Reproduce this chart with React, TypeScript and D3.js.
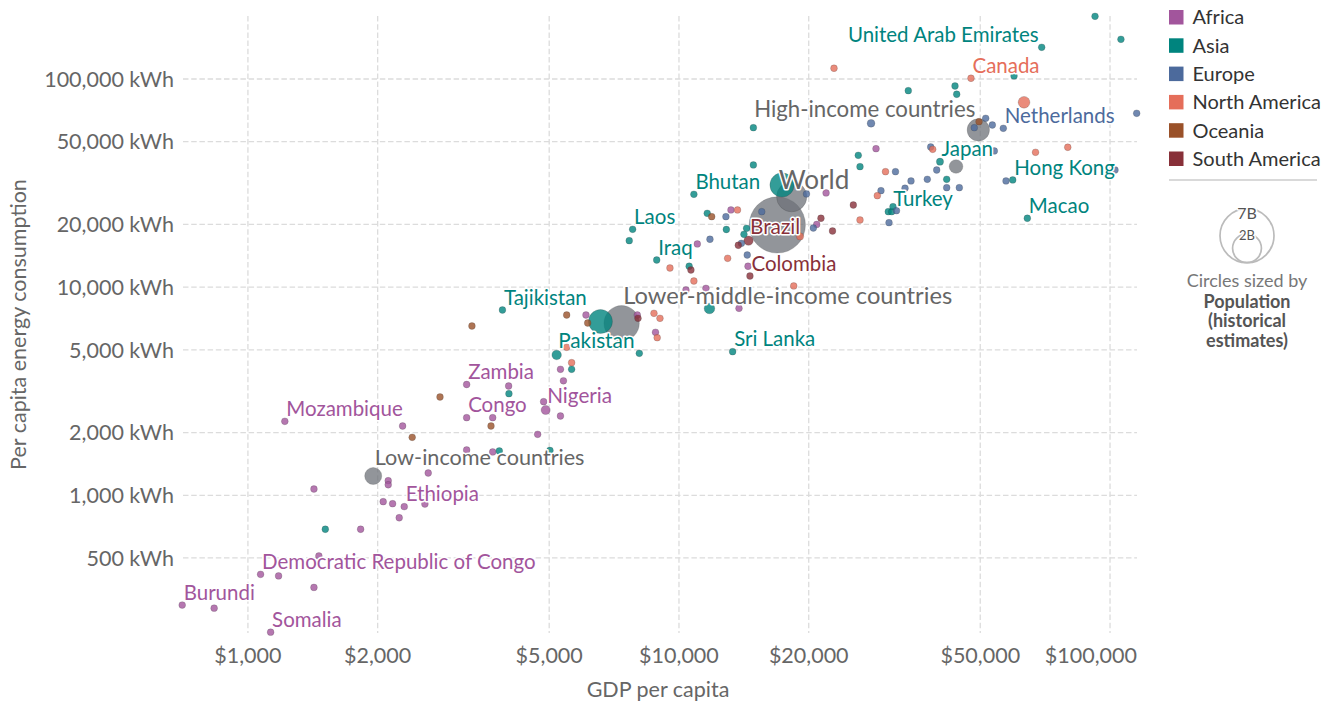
import React from "react";
import * as d3 from "d3";

// [name, GDP per capita ($), per capita energy (kWh), population (millions)]
type Row = [string, number, number, number];

const africa: Row[] = [
  ["Burundi", 704, 297, 12], ["", 835, 287, 5], ["Somalia", 1129, 220, 16],
  ["Democratic Republic of Congo", 1070, 417, 90], ["", 1178, 410, 5], ["", 1423, 361, 5],
  ["", 1461, 511, 5], ["Mozambique", 1218, 2267, 30], ["", 1423, 1072, 5], ["", 1826, 687, 5],
  ["", 2116, 1175, 5], ["", 2116, 1124, 5], ["", 2060, 932, 5], ["", 2166, 911, 5],
  ["Ethiopia", 2305, 882, 110], ["", 2244, 780, 5], ["", 2574, 908, 5], ["", 2620, 1280, 5],
  ["", 2285, 2152, 5], ["Zambia", 3217, 3406, 18], ["Congo", 3217, 2360, 5], ["", 3217, 1651, 5],
  ["", 4026, 3350, 5], ["Nigeria", 4906, 2569, 200], ["", 4853, 2817, 5], ["", 5310, 2404, 5],
  ["", 3697, 2360, 5], ["", 4701, 1963, 5], ["", 3697, 1615, 5], ["", 5310, 4030, 5],
  ["", 5395, 3549, 5], ["", 6085, 7348, 5], ["", 8004, 7348, 5], ["", 8822, 6068, 5],
  ["", 10380, 9690, 5], ["", 11550, 9870, 100], ["", 13780, 7910, 5], ["", 11030, 16120, 5],
  ["", 13200, 23480, 5], ["", 14460, 12600, 5], ["", 21940, 28340, 5], ["", 20870, 20000, 5],
  ["", 28650, 46250, 5],
];

const asia: Row[] = [
  ["", 1512, 687, 5], ["", 3830, 1633, 5], ["", 5020, 1641, 5], ["", 4032, 3077, 5],
  ["", 5636, 4030, 5], ["Pakistan", 5203, 4721, 220], ["", 8091, 4810, 110],
  ["Sri Lanka", 13320, 4896, 21], ["Tajikistan", 3895, 7767, 9], ["India", 6575, 6839, 1380],
  ["Indonesia", 11770, 7897, 270], ["Iraq", 8879, 13500, 40], ["", 10560, 12600, 5],
  ["Laos", 7807, 18960, 7], ["", 7667, 16720, 5], ["Bhutan", 10830, 27930, 1],
  ["", 11630, 22630, 5], ["", 12880, 18920, 5], ["", 14350, 19170, 5], ["", 14150, 17940, 5],
  ["", 14880, 58340, 5], ["", 14880, 38630, 5], ["China", 17340, 30960, 1410],
  ["", 26060, 42990, 5], ["", 26300, 37910, 5], ["", 30590, 23040, 5], ["Turkey", 31150, 23040, 83],
  ["", 31370, 24350, 5], ["Japan", 40320, 40060, 126], ["", 41790, 32970, 5],
  ["", 34040, 87860, 5], ["", 43690, 92540, 5], ["", 44090, 84450, 5],
  ["United Arab Emirates", 69420, 142000, 10], ["Qatar", 92300, 200000, 3],
  ["Singapore", 106000, 155100, 6], ["", 59890, 103400, 5], ["Hong Kong", 59470, 32720, 7],
  ["Macao", 64290, 21420, 1],
];

const europe: Row[] = [
  ["", 11800, 16980, 5], ["", 12850, 21800, 5], ["", 14400, 14270, 5], ["", 13960, 16240, 5],
  ["", 15560, 23040, 5], ["", 19760, 28030, 5], ["", 20500, 19240, 5], ["Russia", 27900, 61260, 145],
  ["", 38370, 47130, 5], ["", 31790, 35860, 5], ["", 39620, 36540, 5], ["", 37680, 32970, 5],
  ["", 34540, 32360, 5], ["", 33450, 29850, 5], ["", 41790, 30050, 5], ["", 44710, 30050, 5],
  ["", 29420, 29070, 5], ["", 31960, 23300, 5], ["", 30710, 20400, 5], ["", 48430, 58340, 5],
  ["", 51470, 64740, 5], ["", 53330, 60120, 5], ["Netherlands", 56550, 57960, 17],
  ["", 57370, 32360, 5], ["Ireland", 102700, 36540, 5], ["Luxembourg", 115300, 68420, 1],
  ["", 53900, 45100, 5],
];

const northAmerica: Row[] = [
  ["", 5636, 4336, 5], ["", 5489, 5140, 5], ["", 8750, 7486, 5], ["", 9035, 7085, 5],
  ["", 8902, 5716, 5], ["", 9530, 12360, 5], ["", 10830, 10700, 5], ["", 12970, 13760, 5],
  ["", 13670, 23480, 5], ["", 18460, 10130, 5], ["Mexico", 19090, 17520, 128],
  ["", 22890, 112600, 5], ["", 26300, 21020, 5], ["", 30140, 35860, 5], ["", 28850, 27500, 5],
  ["", 38780, 45950, 5], ["Canada", 47580, 100800, 38], ["United States", 63170, 77270, 330],
  ["", 67170, 44440, 5], ["", 79790, 46980, 5],
];

const oceania: Row[] = [
  ["", 2405, 1899, 5], ["", 2790, 2967, 5], ["", 3664, 2152, 5], ["", 3309, 6506, 5],
  ["", 5489, 7348, 5], ["", 6141, 6726, 5], ["", 11910, 21800, 5], ["Australia", 49670, 62360, 26],
];

const southAmerica: Row[] = [
  ["", 8035, 7085, 5], ["Brazil", 14500, 16720, 212], ["", 13730, 15890, 5],
  ["Colombia", 14610, 11310, 50], ["", 10660, 12090, 5], ["", 21350, 21420, 5],
  ["", 22710, 18610, 5], ["", 25380, 24810, 5],
];

const aggregates: Row[] = [
  ["World", 16910, 19890, 7600], ["Upper-middle-income countries", 18260, 27200, 2200],
  ["Lower-middle-income countries", 7362, 6703, 3000], ["Low-income countries", 1953, 1238, 700],
  ["High-income countries", 49480, 56890, 1200], ["European Union (27)", 43930, 37980, 450],
];

const regionNames = ["Africa", "Asia", "Europe", "North America", "Oceania", "South America"];
const regionColors = ["#A2559C", "#00847E", "#4C6A9C", "#E56E5A", "#9A5129", "#883039"];
const regionRows = [africa, asia, europe, northAmerica, oceania, southAmerica];
const aggregateColor = "#6D7278";

const labelled = [
  "Burundi", "Somalia", "Democratic Republic of Congo", "Mozambique", "Ethiopia", "Zambia",
  "Congo", "Nigeria", "Pakistan", "Sri Lanka", "Tajikistan", "Iraq", "Laos", "Bhutan", "Turkey",
  "Japan", "United Arab Emirates", "Hong Kong", "Macao", "Netherlands", "Canada", "Brazil",
  "Colombia", "World", "Lower-middle-income countries", "Low-income countries", "High-income countries",
];
const labelsLeft = ["United Arab Emirates", "High-income countries"];
const labelLift: Record<string, number> = { World: 6 };

const xTicks = [1000, 2000, 5000, 10000, 20000, 50000, 100000];
const yTicks = [500, 1000, 2000, 5000, 10000, 20000, 50000, 100000];
const sizeLegend: [string, number][] = [["7B", 7000], ["2B", 2000]];
const sizeNote = ["Population", "(historical", "estimates)"];

const FONT = "Lato, 'Noto Sans', sans-serif";

export default function App() {
  const x = d3.scaleLog().domain([707, 115500]).range([183, 1137]);
  const y = d3.scaleLog().domain([218, 200700]).range([633, 16]);
  const r = d3.scaleSqrt().domain([0, 7000]).range([0, 27]);
  const radius = (p: number) => Math.max(3.4, r(p));

  type Pt = { name: string; cx: number; cy: number; r: number; color: string; label: string; agg: boolean };
  const pts: Pt[] = [];
  regionRows.forEach((rows, i) =>
    rows.forEach(([name, g, e, p]) =>
      pts.push({ name, cx: x(g), cy: y(e), r: radius(p), color: regionColors[i], label: regionColors[i], agg: false })
    )
  );
  aggregates.forEach(([name, g, e, p]) =>
    pts.push({ name, cx: x(g), cy: y(e), r: radius(p), color: aggregateColor, label: "#666", agg: true })
  );
  const drawn = [...pts].sort((a, b) => b.r - a.r);
  const labels = pts.filter((p) => p.name && labelled.includes(p.name));

  const xFmt = (v: number) => "$" + d3.format(",")(v);
  const yFmt = (v: number) => d3.format(",")(v) + " kWh";
  const [x0, x1] = x.range();
  const [y0, y1] = y.range();
  const tickFs = 21.5;

  return (
    <svg width={1334} height={702} style={{ position: "absolute", left: 0, top: 0, background: "#fff" }} fontFamily={FONT}>
      {/* grid */}
      {xTicks.map((t) => (
        <line key={"gx" + t} x1={x(t)} x2={x(t)} y1={y1} y2={y0} stroke="#dcdcdc" strokeWidth={1.3} strokeDasharray="5.5,2.7" />
      ))}
      {yTicks.map((t) => (
        <line key={"gy" + t} x1={x0} x2={x1} y1={y(t)} y2={y(t)} stroke="#dcdcdc" strokeWidth={1.3} strokeDasharray="5.5,2.7" />
      ))}
      {xTicks.map((t) => {
        const s = xFmt(t);
        const half = (s.length * 0.56 * tickFs) / 2;
        const overflow = x(t) + half > x1;
        return (
          <text key={"tx" + t} x={overflow ? x1 : x(t)} y={663} textAnchor={overflow ? "end" : "middle"} fontSize={tickFs} fill="#666">{s}</text>
        );
      })}
      {yTicks.map((t) => (
        <text key={"ty" + t} x={174} y={y(t)} dy="0.36em" textAnchor="end" fontSize={tickFs} fill="#666">{yFmt(t)}</text>
      ))}
      <text x={(x0 + x1) / 2 - 2} y={697} textAnchor="middle" fontSize={tickFs} fill="#666">GDP per capita</text>
      <text transform={`translate(26,${(y0 + y1) / 2}) rotate(-90)`} textAnchor="middle" fontSize={tickFs} fill="#666">
        Per capita energy consumption
      </text>

      {/* points */}
      {drawn.map((p, i) => (
        <circle key={"c" + i} cx={p.cx} cy={p.cy} r={p.r} fill={p.color} fillOpacity={p.agg ? 0.75 : 0.8}
          stroke={p.agg ? "#444" : "#333"} strokeOpacity={0.35} strokeWidth={0.6} />
      ))}

      {/* labels */}
      {labels.map((p, i) => {
        const fs = 19.7 + 0.227 * p.r;
        const left = labelsLeft.includes(p.name);
        return (
          <text key={"l" + i} x={left ? p.cx - 3 : p.cx + 1.5} y={p.cy - p.r - 2 - (labelLift[p.name] || 0)}
            textAnchor={left ? "end" : "start"}
            fontSize={fs} fill={p.label} stroke="#fff" strokeWidth={3} strokeLinejoin="round"
            style={{ paintOrder: "stroke" }}>
            {p.name}
          </text>
        );
      })}

      {/* legend */}
      {regionNames.map((n, i) => (
        <g key={n} transform={`translate(1169,${10 + i * 28.3})`}>
          <rect width={14.5} height={14.5} fill={regionColors[i]} />
          <text x={23.5} y={14.3} fontSize={20} fill="#333">{n}</text>
        </g>
      ))}
      <line x1={1169} x2={1317} y1={180} y2={180} stroke="#ccc" strokeWidth={1.3} />
      {sizeLegend.map(([lab, v]) => (
        <circle key={"sc" + lab} cx={1247} cy={262.7 - r(v)} r={r(v)} fill="none" stroke="#bbb" strokeWidth={1.7} />
      ))}
      {sizeLegend.map(([lab, v], i) => (
        <text key={"st" + lab} x={1247} y={262.7 - 2 * r(v) + (i === 0 ? 5 : 1)} dy="0.36em" textAnchor="middle"
          fontSize={i === 0 ? 16 : 13}
          fill="#555" stroke="#fff" strokeWidth={3} style={{ paintOrder: "stroke" }}>{lab}</text>
      ))}
      <text x={1247} y={286.7} textAnchor="middle" fontSize={18} fill="#777">Circles sized by</text>
      {sizeNote.map((s, i) => (
        <text key={s} x={1247} y={307.5 + i * 19.8} textAnchor="middle" fontSize={18} fontWeight="bold" fill="#555">{s}</text>
      ))}
    </svg>
  );
}
